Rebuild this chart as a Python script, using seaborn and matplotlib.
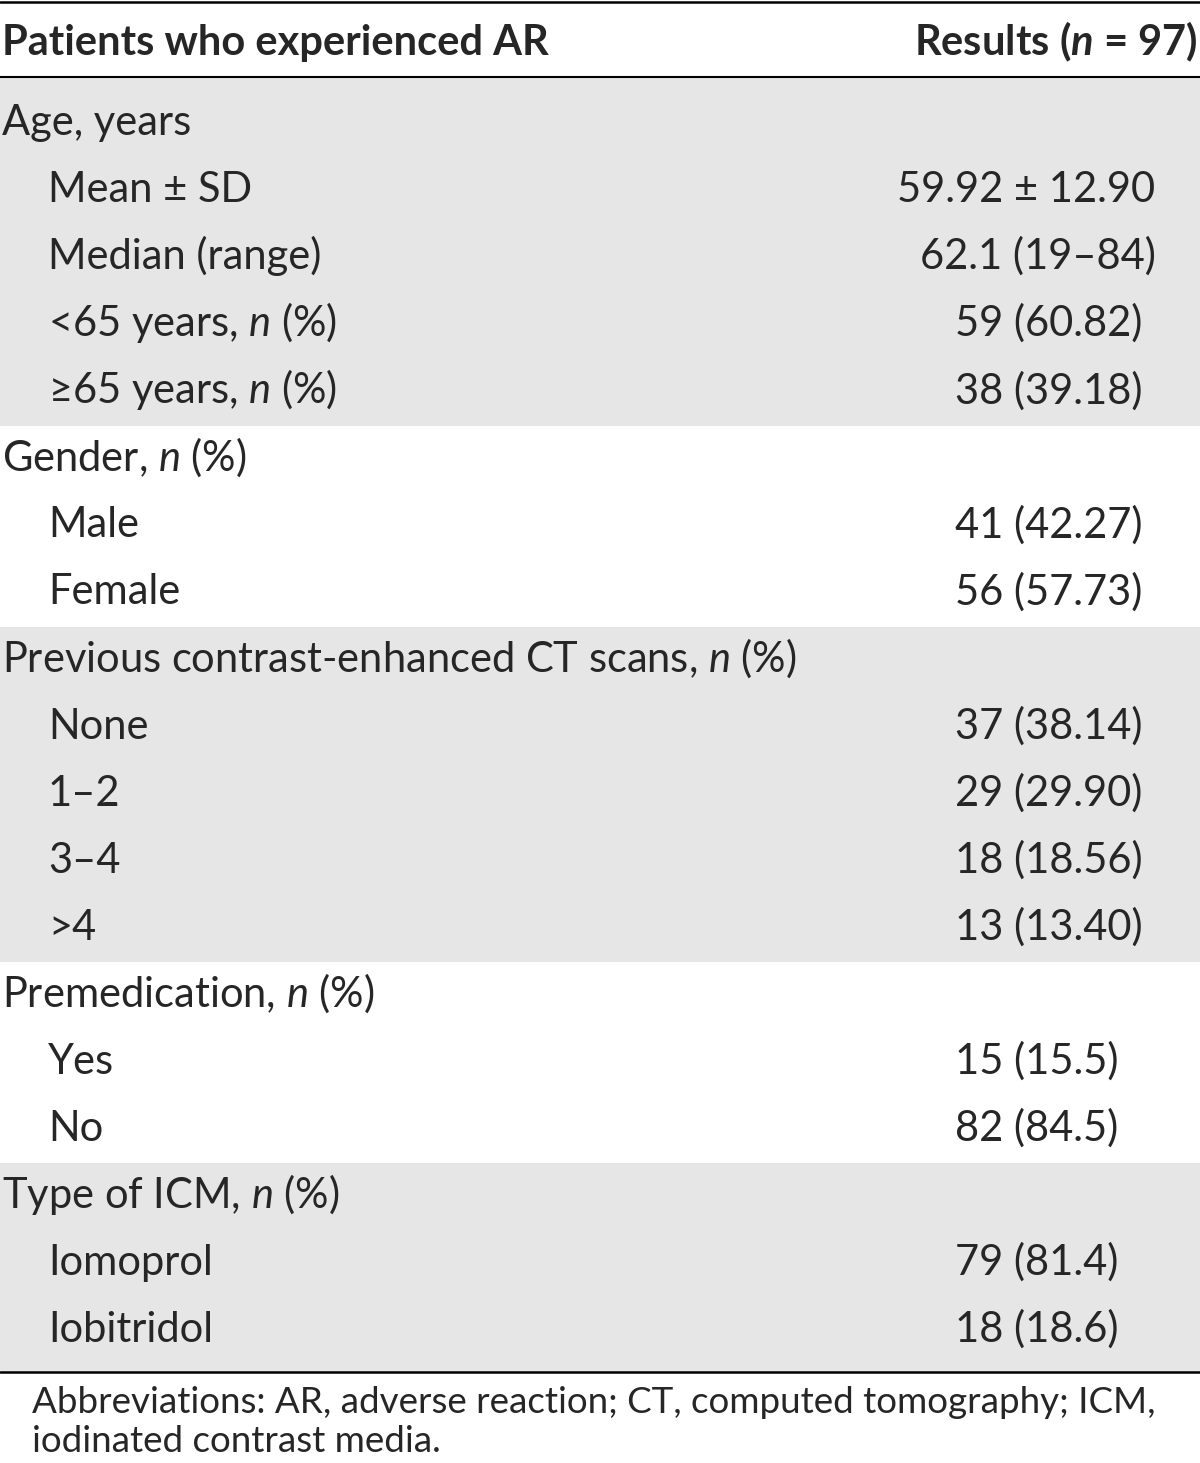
import matplotlib
matplotlib.use("Agg")
import matplotlib.pyplot as plt
import seaborn as sns

# --------------------------
# Table content
# --------------------------
header_left = "Patients who experienced AR"
header_right = r"Results ($\mathbfit{n}$ = 97)"

group_labels = [
    "Age, years",
    "Gender, $n$ (%)",
    "Previous contrast-enhanced CT scans, $n$ (%)",
    "Premedication, $n$ (%)",
    "Type of ICM, $n$ (%)",
]
group_items = [
    ["Mean \u00b1 SD", "Median (range)", "<65 years, $n$ (%)", "\u226565 years, $n$ (%)"],
    ["Male", "Female"],
    ["None", "1\u20132", "3\u20134", ">4"],
    ["Yes", "No"],
    ["Iomoprol", "Iobitridol"],
]
group_values = [
    ["59.92 \u00b1 12.90", "62.1 (19\u201384)", "59 (60.82)", "38 (39.18)"],
    ["41 (42.27)", "56 (57.73)"],
    ["37 (38.14)", "29 (29.90)", "18 (18.56)", "13 (13.40)"],
    ["15 (15.5)", "82 (84.5)"],
    ["79 (81.4)", "18 (18.6)"],
]
footnote = ["Abbreviations: AR, adverse reaction; CT, computed tomography; ICM,",
            "iodinated contrast media."]

# --------------------------
# Style
# --------------------------
sns.set_theme(style="white")
plt.rcParams["font.family"] = ["Lato", "DejaVu Sans"]
plt.rcParams["mathtext.fontset"] = "custom"
plt.rcParams["mathtext.rm"] = "Lato"
plt.rcParams["mathtext.it"] = "Lato:italic"
plt.rcParams["mathtext.bf"] = "Lato:bold"
plt.rcParams["mathtext.bfit"] = "Lato:italic:bold"

FS = 30
GREY = "#e6e6e6"
ROW_H = 67.06
Y0 = 120          # centre of first body row (px)
CAP = 15          # baseline offset from row centre (px)
VAL_X_DEFAULT = 955
val_x_special = {"59.92 \u00b1 12.90": 897, "62.1 (19\u201384)": 920}

fig = plt.figure(figsize=(12, 14.63), dpi=100)
ax = fig.add_axes([0, 0, 1, 1])
ax.set_xlim(0, 1200)
ax.set_ylim(1463, 0)
ax.axis("off")

# header
ax.text(2, 40 + CAP, header_left, fontsize=FS, fontweight="bold", va="baseline", ha="left")
ax.text(1197, 40 + CAP, header_right, fontsize=FS, fontweight="bold", va="baseline", ha="right")

row = 0
band_top = 77
for gi, (glabel, items, vals) in enumerate(zip(group_labels, group_items, group_values)):
    n_rows = 1 + len(items)
    last = row + n_rows - 1
    if gi == len(group_labels) - 1:
        band_bot = 1372
    else:
        band_bot = Y0 + ROW_H * (last + 0.5) + 4
    if gi % 2 == 0:
        ax.axhspan(band_top, band_bot, color=GREY, lw=0, zorder=0)
    band_top = band_bot

    yc = Y0 + ROW_H * row
    ax.text(2, yc + CAP, glabel, fontsize=FS, va="baseline", ha="left")
    row += 1
    for item, val in zip(items, vals):
        yc = Y0 + ROW_H * row
        ax.text(48, yc + CAP, item, fontsize=FS, va="baseline", ha="left")
        ax.text(val_x_special.get(val, VAL_X_DEFAULT), yc + CAP, val, fontsize=FS,
                va="baseline", ha="left")
        row += 1

# rules
for y, lw in [(2, 1.8), (77, 1.5), (1372, 1.8)]:
    ax.axhline(y, color="black", lw=lw, zorder=3)

# footnote
for i, line in enumerate(footnote):
    ax.text(32, 1413 + 39 * i, line, fontsize=26.5, va="baseline", ha="left")

fig.savefig("out.png", dpi=100)
